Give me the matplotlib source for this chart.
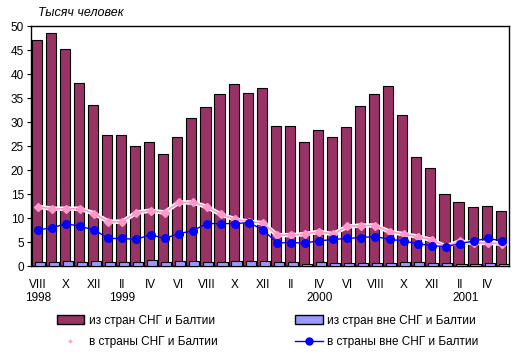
import numpy as np
import matplotlib.pyplot as plt
from matplotlib.lines import Line2D
from matplotlib.patches import Patch

plt.rcParams['font.family'] = ['Liberation Sans', 'DejaVu Sans']

# Months VIII 1998 - V 2001
months = ["VIII", "IX", "X", "XI", "XII", "I", "II", "III", "IV", "V", "VI", "VII",
          "VIII", "IX", "X", "XI", "XII", "I", "II", "III", "IV", "V", "VI", "VII",
          "VIII", "IX", "X", "XI", "XII", "I", "II", "III", "IV", "V"]

# arrivals from CIS and Baltic
from_cis = [47.1, 48.7, 45.2, 38.1, 33.7, 27.3, 27.3, 25.0, 26.0, 23.5, 26.9, 30.8,
            33.1, 35.8, 37.9, 36.2, 37.1, 29.2, 29.2, 26.0, 28.3, 26.9, 29.0, 33.3,
            36.0, 37.5, 31.5, 22.7, 20.4, 15.0, 13.3, 12.3, 12.5, 11.5]
# arrivals from outside CIS and Baltic
from_other = [1.0, 0.8, 1.2, 1.0, 1.2, 0.8, 0.8, 0.8, 1.4, 1.0, 1.2, 1.2,
              1.0, 1.0, 1.2, 1.2, 1.2, 1.0, 1.0, 0.4, 1.0, 0.6, 0.6, 0.6,
              0.6, 0.6, 0.8, 0.8, 0.6, 0.6, 0.4, 0.4, 0.6, 0.4]
# departures to CIS and Baltic
to_cis = [12.4, 12.0, 12.0, 12.0, 11.0, 9.3, 9.3, 11.2, 11.6, 11.2, 13.3, 13.3,
          12.4, 10.8, 9.8, 9.3, 9.0, 6.5, 6.5, 6.7, 7.2, 6.7, 8.3, 8.5,
          8.5, 7.2, 6.7, 6.2, 5.5, 4.1, 5.2, 4.8, 4.9, 4.7]
# departures to outside CIS and Baltic
to_other = [7.6, 8.0, 8.9, 8.3, 7.6, 5.8, 5.8, 5.6, 6.6, 5.8, 6.8, 7.4,
            8.9, 8.9, 8.9, 9.1, 7.6, 4.9, 4.9, 4.9, 5.3, 5.6, 5.8, 6.0,
            6.2, 5.6, 5.3, 4.7, 4.3, 4.1, 4.7, 5.3, 5.8, 5.3]

years = ["1998", "1999", "2000", "2001"]
year_pos = [0, 6, 20, 30.4]

purple = "#993366"
lilac = "#9999ff"
pink = "#ff99cc"
blue = "#0000ff"

x = np.arange(len(months))

fig = plt.figure(figsize=(5.14, 3.57), dpi=100)
ax = fig.add_axes([31 / 514, 1 - 266.3 / 357, 478 / 514, 240 / 357])

ax.bar(x - 0.09, from_cis, width=0.72, color=purple, edgecolor="black", linewidth=0.8, zorder=2)
ax.bar(x + 0.12, from_other, width=0.72, color=lilac, edgecolor="black", linewidth=0.8, zorder=3)

ax.plot(x, to_cis, color="white", linewidth=3.2, zorder=4, solid_capstyle="round")
ax.plot(x, to_cis, color=pink, linewidth=1.2, marker="D", markersize=4.5,
        markeredgecolor=pink, zorder=5)
ax.plot(x, to_other, color=blue, linewidth=1.0, marker="o", markersize=5.5, zorder=6)

ax.set_xlim(-0.5, len(months) - 0.5)
ax.set_ylim(0, 50)
ax.set_yticks(range(0, 51, 5))
ax.tick_params(axis="y", labelsize=8.5, length=3, direction="out", pad=2)

ax.set_xticks(x[::2])
ax.set_xticklabels(months[::2], fontsize=8.5)
ax.tick_params(axis="x", length=0, pad=9)

for yr, p in zip(years, year_pos):
    ax.text(p, -6.7, yr, ha="center", va="center", fontsize=8.5)

for s in ax.spines.values():
    s.set_linewidth(1.0)

fig.text(38 / 514, 1 - 13 / 357, "Тысяч человек", ha="left", va="center",
         fontsize=9, style="italic")

handles = [
    Patch(facecolor=purple, edgecolor="black", label="из стран СНГ и Балтии"),
    Line2D([], [], color=pink, marker="+", markersize=3, linestyle="none",
           label="в страны СНГ и Балтии"),
    Patch(facecolor=lilac, edgecolor="black", label="из стран вне СНГ и Балтии"),
    Line2D([], [], color=blue, marker="o", markersize=5, linewidth=1.0,
           label="в страны вне СНГ и Балтии"),
]
fig.legend(handles=handles, ncol=2, loc="center", bbox_to_anchor=(0.521, 0.072),
           frameon=False, fontsize=8.5, handlelength=2.3, handleheight=0.8,
           columnspacing=6.6, labelspacing=0.8, handletextpad=0.4)

fig.savefig("out.png", dpi=100)
